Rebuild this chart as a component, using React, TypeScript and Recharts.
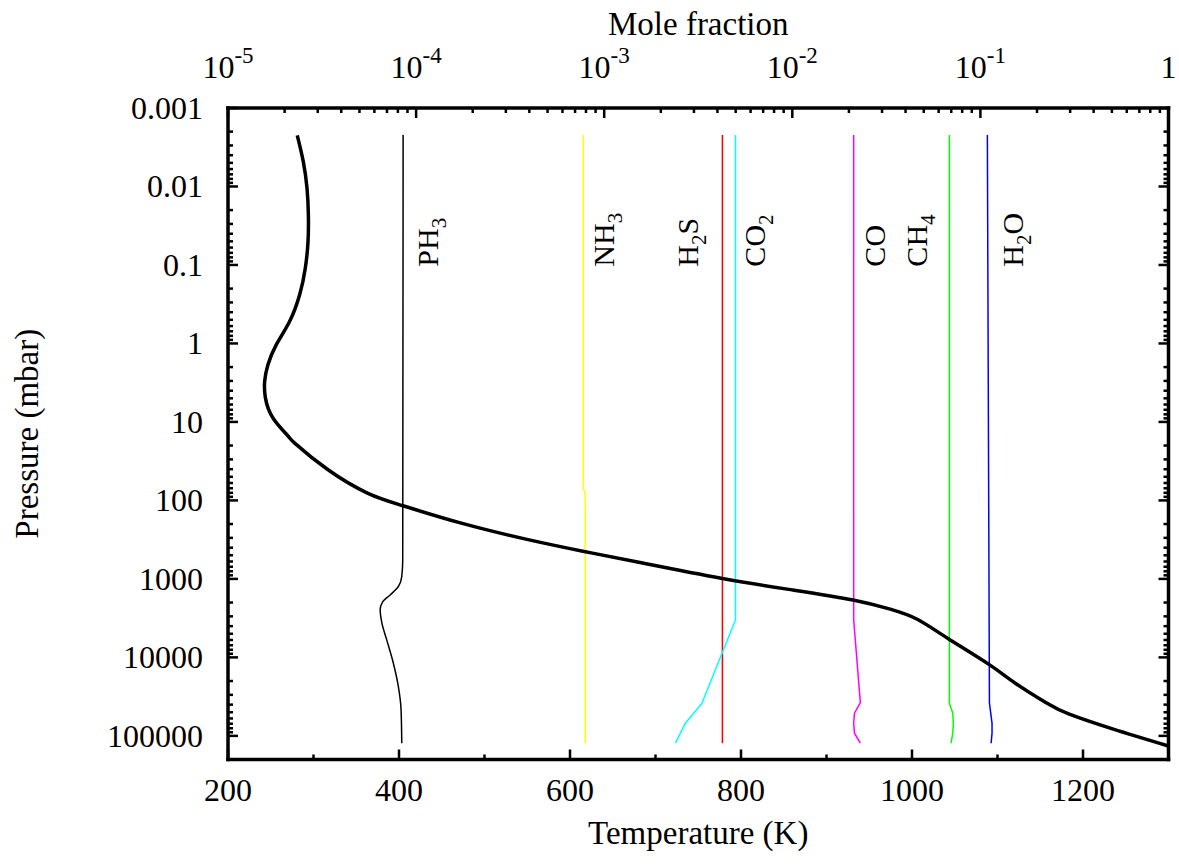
import { LineChart, Line, XAxis, YAxis, ReferenceDot } from 'recharts';

const FONT = "'Liberation Serif', 'Times New Roman', serif";

// temperature profile (K vs mbar)
const tempK = [281, 288, 292.4, 294, 293.6, 290.4, 283.8, 272, 256.5, 246.8, 242.9, 243.7, 252.6, 270.2, 278, 317, 363.7, 404.7, 472.9, 550.9, 616.4, 681.9, 776.7, 859.8, 931, 974.5, 1006.1, 1041.6, 1089.1, 1120.8, 1156.4, 1184, 1235.4, 1300];
const tempP = [0.00223, 0.00479, 0.0105, 0.0229, 0.0501, 0.11, 0.24, 0.525, 1.035, 1.86, 3.02, 4.9, 8.91, 15.1, 18.6, 40.7, 81.3, 117, 195, 316, 447, 619, 980, 1380, 1853, 2432, 3266, 5702, 12100, 21330, 37580, 52970, 82220, 134900];

// mole fraction profiles
const ph3P = [0.0022, 573, 935, 1250, 1600, 1945, 2480, 3660, 5980, 11860, 23550, 46670, 124000];
const ph3X = [8.53e-5, 8.49e-5, 8.39e-5, 8.05e-5, 7.28e-5, 6.65e-5, 6.44e-5, 6.58e-5, 6.98e-5, 7.57e-5, 8.05e-5, 8.32e-5, 8.39e-5];

const nh3P = [0.0022, 68, 85, 124000];
const nh3X = [7.73e-4, 7.73e-4, 7.93e-4, 7.93e-4];

const h2sP = [0.0022, 124000];
const h2sX = [4.25e-3, 4.25e-3];

const co2P = [0.0022, 3330, 8850, 38300, 68900, 124000];
const co2X = [4.99e-3, 4.99e-3, 4.23e-3, 3.31e-3, 2.7e-3, 2.39e-3];

const coP = [0.0022, 3330, 37600, 51400, 68900, 92500, 124000];
const coX = [0.0212, 0.0212, 0.023, 0.0214, 0.0212, 0.0214, 0.023];

const ch4P = [0.0022, 38300, 51400, 68900, 92500, 124000];
const ch4X = [0.0684, 0.0684, 0.0713, 0.0718, 0.0713, 0.0698];

const h2oP = [0.0022, 38300, 68900, 92500, 124000];
const h2oX = [0.1089, 0.1117, 0.1153, 0.1153, 0.114];

// axis ticks
const tempLabels = [200, 400, 600, 800, 1000, 1200];
const tempTicks = [200, 300, 400, 500, 600, 700, 800, 900, 1000, 1100, 1200, 1300];
const pressureLabels = [0.001, 0.01, 0.1, 1, 10, 100, 1000, 10000, 100000];
const fractionLabels = [1e-5, 1e-4, 1e-3, 1e-2, 1e-1, 1];

const withMinors = (majors: number[]) =>
    majors.flatMap((m, i) => (i < majors.length - 1 ? [1, 2, 3, 4, 5, 6, 7, 8, 9].map((k) => m * k) : [m]));

const pressureTicks = withMinors(pressureLabels);
const fractionTicks = withMinors(fractionLabels);

const isMajor = (majors: number[], v: number) => majors.some((m) => Math.abs(v - m) / m < 1e-6);

const tempData = tempK.map((t, i) => ({ t, p: tempP[i] }));
const rows = (ps: number[], xs: number[]) => ps.map((p, i) => ({ p, x: xs[i] }));

const species = [
    { name: 'PH3', data: rows(ph3P, ph3X), color: '#000000', type: 'monotoneY' },
    { name: 'NH3', data: rows(nh3P, nh3X), color: '#ffff00', type: 'linear' },
    { name: 'H2S', data: rows(h2sP, h2sX), color: '#ff0000', type: 'linear' },
    { name: 'CO2', data: rows(co2P, co2X), color: '#00ffff', type: 'linear' },
    { name: 'CO', data: rows(coP, coX), color: '#ff00ff', type: 'linear' },
    { name: 'CH4', data: rows(ch4P, ch4X), color: '#00ff00', type: 'linear' },
    { name: 'H2O', data: rows(h2oP, h2oX), color: '#0000ff', type: 'linear' },
];

// rotated labels next to each species line: [text, subscript?] parts
const labelP = 0.105;
const speciesLabels = [
    { parts: [['PH', false], ['3', true]], x: ph3X[0], dx: 35 },
    { parts: [['NH', false], ['3', true]], x: nh3X[0], dx: 31 },
    { parts: [['H', false], ['2', true], ['S', false]], x: h2sX[0], dx: -24 },
    { parts: [['CO', false], ['2', true]], x: co2X[0], dx: 29 },
    { parts: [['CO', false]], x: coX[0], dx: 31 },
    { parts: [['CH', false], ['4', true]], x: ch4X[0], dx: -22 },
    { parts: [['H', false], ['2', true], ['O', false]], x: h2oX[0], dx: 36 },
];

const AXIS_LINE = { stroke: '#000', strokeWidth: 3.5, strokeLinecap: 'square' as const };
const TICK_W = 2.5;

const BottomTick = (props: any) => {
    const { x, y, payload } = props;
    const major = isMajor(tempLabels, payload.value);
    return (
        <g>
            <line x1={x} x2={x} y1={y} y2={y - (major ? 10 : 5)} stroke="#000" strokeWidth={TICK_W} />
            {major && (
                <text x={x} y={y + 41} textAnchor="middle" fontFamily={FONT} fontSize={32} fill="#000">
                    {payload.value}
                </text>
            )}
        </g>
    );
};

const TopTick = (props: any) => {
    const { x, y, payload } = props;
    const v = payload.value;
    const major = isMajor(fractionLabels, v);
    const exp = Math.round(Math.log10(v));
    return (
        <g>
            <line x1={x} x2={x} y1={y} y2={y + (major ? 10 : 5)} stroke="#000" strokeWidth={TICK_W} />
            {major && (
                <text x={x} y={y - 30} textAnchor="middle" fontFamily={FONT} fontSize={32} fill="#000">
                    {exp === 0 ? '1' : (
                        <>
                            <tspan>10</tspan>
                            <tspan dy={-15} fontSize={23}>{exp}</tspan>
                        </>
                    )}
                </text>
            )}
        </g>
    );
};

const LeftTick = (props: any) => {
    const { x, y, payload } = props;
    const major = isMajor(pressureLabels, payload.value);
    return (
        <g>
            <line x1={x} x2={x + (major ? 10 : 5)} y1={y} y2={y} stroke="#000" strokeWidth={TICK_W} />
            {major && (
                <text x={x - 25} y={y + 11} textAnchor="end" fontFamily={FONT} fontSize={32} fill="#000">
                    {String(payload.value)}
                </text>
            )}
        </g>
    );
};

const RightTick = (props: any) => {
    const { x, y, payload } = props;
    const major = isMajor(pressureLabels, payload.value);
    return <line x1={x} x2={x - (major ? 10 : 5)} y1={y} y2={y} stroke="#000" strokeWidth={TICK_W} />;
};

const SpeciesLabel = (parts: any[], dx: number) => (props: any) => {
    const vb = props.viewBox || {};
    const x = (vb.x ?? 0) + (vb.width ?? 0) / 2 + dx;
    const y = (vb.y ?? 0) + (vb.height ?? 0) / 2;
    return (
        <text transform={`translate(${x},${y}) rotate(-90)`} fontFamily={FONT} fontSize={30} fill="#000">
            {parts.map(([s, sub], i) => (
                <tspan key={i} dy={sub ? 8 : i > 0 && parts[i - 1][1] ? -8 : 0} fontSize={sub ? 21 : 30}>
                    {s}
                </tspan>
            ))}
        </text>
    );
};

export default function App() {
    return (
        <div style={{ position: 'absolute', left: 0, top: 0, width: 1179, height: 868, background: '#fff' }}>
            <LineChart width={1179} height={868} margin={{ top: 48, right: 0.5, bottom: 48.5, left: 128 }}>
                <XAxis
                    xAxisId="T"
                    dataKey="t"
                    type="number"
                    domain={[200, 1300]}
                    allowDataOverflow
                    ticks={tempTicks}
                    interval={0}
                    height={60}
                    tickSize={0}
                    tickMargin={0}
                    tickLine={false}
                    axisLine={AXIS_LINE}
                    tick={<BottomTick />}
                    label={{
                        content: (p: any) => (
                            <text
                                x={p.viewBox.x + p.viewBox.width / 2}
                                y={p.viewBox.y + 84}
                                textAnchor="middle"
                                fontFamily={FONT}
                                fontSize={33}
                                fill="#000"
                            >
                                Temperature (K)
                            </text>
                        ),
                    }}
                />
                <XAxis
                    xAxisId="mf"
                    dataKey="x"
                    type="number"
                    orientation="top"
                    scale="log"
                    domain={[1e-5, 1]}
                    allowDataOverflow
                    ticks={fractionTicks}
                    interval={0}
                    height={60}
                    tickSize={0}
                    tickMargin={0}
                    tickLine={false}
                    axisLine={AXIS_LINE}
                    tick={<TopTick />}
                    label={{
                        content: (p: any) => (
                            <text
                                x={p.viewBox.x + p.viewBox.width / 2}
                                y={p.viewBox.y + p.viewBox.height - 73}
                                textAnchor="middle"
                                fontFamily={FONT}
                                fontSize={33}
                                fill="#000"
                            >
                                Mole fraction
                            </text>
                        ),
                    }}
                />
                <YAxis
                    yAxisId="p"
                    dataKey="p"
                    type="number"
                    scale="log"
                    reversed
                    domain={[1e-3, 2e5]}
                    allowDataOverflow
                    ticks={pressureTicks}
                    interval={0}
                    width={100}
                    tickSize={0}
                    tickMargin={0}
                    tickLine={false}
                    axisLine={AXIS_LINE}
                    tick={<LeftTick />}
                    label={{
                        content: (p: any) => {
                            const cx = p.viewBox.x + p.viewBox.width - 190;
                            const cy = p.viewBox.y + p.viewBox.height / 2;
                            return (
                                <text
                                    transform={`translate(${cx},${cy}) rotate(-90)`}
                                    textAnchor="middle"
                                    fontFamily={FONT}
                                    fontSize={33}
                                    fill="#000"
                                >
                                    Pressure (mbar)
                                </text>
                            );
                        },
                    }}
                />
                <YAxis
                    yAxisId="pR"
                    orientation="right"
                    type="number"
                    scale="log"
                    reversed
                    domain={[1e-3, 2e5]}
                    allowDataOverflow
                    ticks={pressureTicks}
                    interval={0}
                    width={10}
                    tickSize={0}
                    tickMargin={0}
                    tickLine={false}
                    axisLine={AXIS_LINE}
                    tick={<RightTick />}
                />

                {species.map((s) => (
                    <Line
                        key={s.name}
                        xAxisId="mf"
                        yAxisId="p"
                        data={s.data}
                        dataKey="p"
                        type={s.type as any}
                        stroke={s.color}
                        strokeWidth={1.5}
                        dot={false}
                        activeDot={false}
                        isAnimationActive={false}
                    />
                ))}
                <Line
                    xAxisId="T"
                    yAxisId="p"
                    data={tempData}
                    dataKey="p"
                    type="natural"
                    stroke="#000"
                    strokeWidth={3.5}
                    dot={false}
                    activeDot={false}
                    isAnimationActive={false}
                />

                {speciesLabels.map((l, i) => (
                    <ReferenceDot
                        key={i}
                        xAxisId="mf"
                        yAxisId="p"
                        x={l.x}
                        y={labelP}
                        r={0}
                        fill="none"
                        stroke="none"
                        label={SpeciesLabel(l.parts, l.dx)}
                    />
                ))}
            </LineChart>
        </div>
    );
}
